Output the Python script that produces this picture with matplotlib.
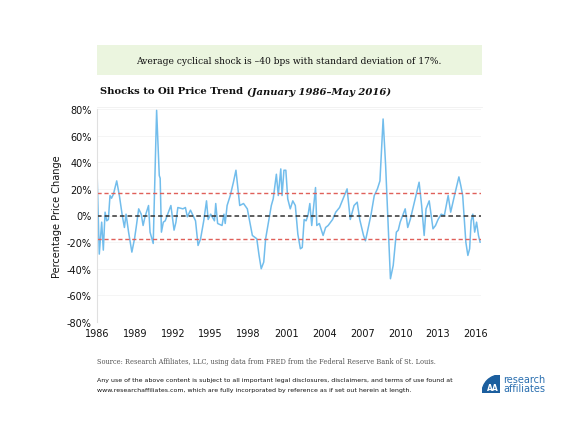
import matplotlib
matplotlib.use('Agg')
import matplotlib.pyplot as plt
from matplotlib.patches import Rectangle, Wedge

# Data (decimal year, % shock to trend)
years = [1986.0, 1986.18, 1986.37, 1986.5, 1986.64, 1986.77, 1986.9, 1987.03, 1987.15, 1987.3,
         1987.56, 1987.77, 1988.0, 1988.17, 1988.3, 1988.5, 1988.76, 1988.97, 1989.1, 1989.3,
         1989.5, 1989.65, 1989.8, 1990.08, 1990.2, 1990.45, 1990.72, 1990.93, 1991.0, 1991.1,
         1991.25, 1991.4, 1991.85, 1992.1, 1992.25, 1992.4, 1992.8, 1993.0, 1993.15, 1993.4,
         1993.8, 1994.0, 1994.2, 1994.45, 1994.67, 1994.8, 1995.0, 1995.3, 1995.4, 1995.55,
         1995.9, 1996.05, 1996.15, 1996.3, 1996.55, 1996.8, 1997.0, 1997.1, 1997.3, 1997.6,
         1997.9, 1998.3, 1998.65, 1998.83, 1999.0, 1999.2, 1999.35, 1999.5, 1999.8, 1999.95,
         2000.2, 2000.35, 2000.55, 2000.65, 2000.8, 2000.95, 2001.1, 2001.3, 2001.5, 2001.7,
         2001.9, 2002.1, 2002.25, 2002.4, 2002.55, 2002.7, 2002.85, 2003.0, 2003.3, 2003.4,
         2003.6, 2003.9, 2004.1, 2004.3, 2004.65, 2004.9, 2005.2, 2005.8, 2006.05, 2006.35,
         2006.6, 2006.8, 2007.1, 2007.25, 2007.4, 2007.7, 2007.95, 2008.2, 2008.4, 2008.65,
         2008.85, 2009.05, 2009.23, 2009.45, 2009.7, 2009.85, 2010.0, 2010.2, 2010.4, 2010.6,
         2010.8, 2011.0, 2011.5, 2011.7, 2011.9, 2012.05, 2012.3, 2012.6, 2012.8, 2013.0,
         2013.25, 2013.5, 2013.8, 2014.0, 2014.3, 2014.65, 2014.8, 2014.95, 2015.2, 2015.36,
         2015.5, 2015.62, 2015.75, 2015.9, 2016.05, 2016.2, 2016.33]
shock = [34, -29, -5, -26, 2.5, -4, -3, 15, 13, 16,
         26, 15, 0, -9, 1, -12.5, -27.5, -17.5, -9, 5,
         1, -7.5, -1, 7.5, -12.5, -21, 79, 30, 28, -12.5,
         -5, -4, 7.5, -11, -5, 6, 5, 6, -1, 4,
         -4, -22.5, -17.5, -4, 11, -3, 1, -4, 9, -6,
         -7.5, 1, -6, 7.5, 15, 25, 34, 25, 7.5, 9,
         5, -15, -17.5, -30, -40, -35, -17.5, -9, 7.5, 12.5,
         31, 15, 35, 15, 34, 34, 12.5, 5, 11, 7.5,
         -14, -25, -24, -3, -4, 0, 9, -7.5, 21, -7.5,
         -6, -15, -9, -7.5, -3, 2.5, 6, 20, -3, 7.5,
         10, -3, -15, -19, -12.5, 1, 15, 20, 26, 72.5,
         37.5, -7.5, -47.5, -37.5, -12.5, -11, -5, 0, 5, -9,
         -3, 5, 25, 7.5, -15, 5, 11, -10, -7.5, -3,
         1, 0, 15, 2.5, 15, 29, 22.5, 15, -20, -30,
         -25, -4, 1, -12.5, -5, -15, -20]

mean_shock = -0.4
std_shock = 17
yticks = [-80, -60, -40, -20, 0, 20, 40, 60, 80]
xticks = [1986, 1989, 1992, 1995, 1998, 2001, 2004, 2007, 2010, 2013, 2016]

fig = plt.figure(figsize=(5.8, 4.35), dpi=100)
fig.patch.set_facecolor('white')

# Green call-out box
fig.patches.append(Rectangle((97/580, 1-76/435), 385/580, 30/435, transform=fig.transFigure,
                             facecolor='#ebf5df', edgecolor='none'))
fig.text(289/580, 1-61/435, 'Average cyclical shock is \u201340 bps with standard deviation of 17%.',
         ha='center', va='center', fontsize=6.6, family='DejaVu Serif', color='#111111')

# Title (bold part, then bold italic part right after it)
t1 = fig.text(100/580, 1-92/435, 'Shocks to Oil Price Trend ', ha='left', va='center',
              fontsize=7.2, family='DejaVu Serif', weight='bold', color='#111111')
fig.canvas.draw()
bb = t1.get_window_extent()
fig.text(bb.x1/580, 1-92/435, '(January 1986\u2013May 2016)', ha='left', va='center',
         fontsize=7.2, family='DejaVu Serif', weight='bold', style='italic', color='#111111')
fig.add_artist(plt.Line2D([97/580, 482/580], [1-108/435, 1-108/435], transform=fig.transFigure,
                          color='#f0f0f0', lw=0.6))

ax = fig.add_axes([97/580, 1-323/435, 384/580, 213/435])
ax.plot(years, shock, color='#72bdec', lw=1.1)
ax.axhline(mean_shock + std_shock, color='#e0605a', ls=(0, (3, 2)), lw=1.0)
ax.axhline(mean_shock - std_shock, color='#e0605a', ls=(0, (3, 2)), lw=1.0)
ax.axhline(mean_shock, color='#333333', ls=(0, (3, 2)), lw=1.1)

ax.set_xlim(1986, 2016.4)
ax.set_ylim(-80, 80)
ax.set_yticks(yticks)
ax.set_yticklabels(['%d%%' % v for v in yticks])
ax.set_xticks(xticks)
ax.set_xticklabels([str(v) for v in xticks])
ax.tick_params(length=0, labelsize=7, colors='#111111', pad=4)
ax.yaxis.grid(True, color='#f5f5f5', lw=0.7)
ax.set_axisbelow(True)
for s in ['top', 'right', 'bottom']:
    ax.spines[s].set_visible(False)
ax.spines['left'].set_color('#e0e0e0')
ax.set_ylabel('Percentage Price Change', fontsize=7, color='#111111', labelpad=3)

# Source and disclaimer
fig.text(97/580, 1-362/435, 'Source: Research Affiliates, LLC, using data from FRED from the Federal Reserve Bank of St. Louis.',
         ha='left', va='center', fontsize=4.8, family='DejaVu Serif', color='#555555')
fig.text(97/580, 1-381/435, 'Any use of the above content is subject to all important legal disclosures, disclaimers, and terms of use found at',
         ha='left', va='center', fontsize=4.5, weight='medium', color='#111111')
fig.text(97/580, 1-391/435, 'www.researchaffiliates.com, which are fully incorporated by reference as if set out herein at length.',
         ha='left', va='center', fontsize=4.5, weight='medium', color='#111111')

# Logo
logo = fig.add_axes([482/580, 1-394/435, 18/580, 18/435])
logo.add_patch(Wedge((1, 0), 1, 90, 180, color='#1b5e9e'))
logo.text(0.6, 0.3, '\u0391\u0391', ha='center', va='center', fontsize=5.5, color='white', weight='bold')
logo.set_xlim(0, 1)
logo.set_ylim(0, 1)
logo.axis('off')
fig.text(503/580, 1-380/435, 'research', ha='left', va='center', fontsize=7, color='#2a6fb0')
fig.text(503/580, 1-389/435, 'affiliates', ha='left', va='center', fontsize=7, color='#2a6fb0')

fig.savefig('out.png', dpi=100)
